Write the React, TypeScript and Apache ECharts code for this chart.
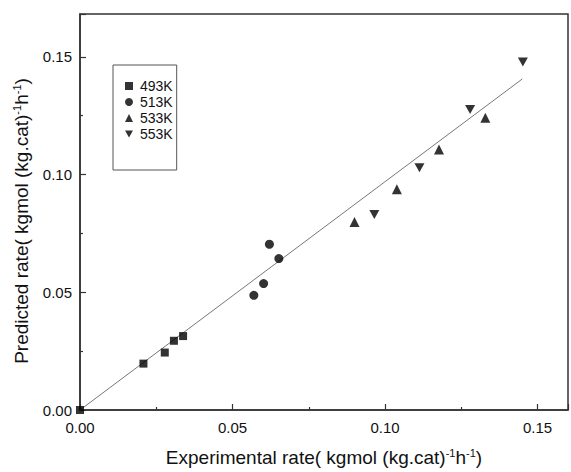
import React, { useEffect, useRef } from "react";
import * as echarts from "echarts";

const legendNames = ["493K", "513K", "533K", "553K"];
const data493: number[][] = [[0, 0], [0.0208, 0.0197], [0.0278, 0.0244], [0.0308, 0.0294], [0.0338, 0.0314]];
const data513: number[][] = [[0.057, 0.0487], [0.0602, 0.0537], [0.0621, 0.0704], [0.0652, 0.0643]];
const data533: number[][] = [[0.09, 0.0799], [0.1039, 0.0938], [0.1177, 0.1106], [0.1329, 0.1241]];
const data553: number[][] = [[0.0965, 0.083], [0.1113, 0.1029], [0.1279, 0.1276], [0.1452, 0.1478]];
const fitLine: number[][] = [[0, 0], [0.145, 0.1406]];
const xTicks = [0, 0.05, 0.1, 0.15];
const yTicks = [0, 0.05, 0.1, 0.15];

const FONT = "'Liberation Sans', Arial, sans-serif";
const DOWN = "path://M0,0L10,0L5,9Z";

export default function App() {
  const ref = useRef<HTMLDivElement>(null);
  useEffect(() => {
    if (!ref.current) return;
    const chart = echarts.init(ref.current, null, { renderer: "svg" });
    const isTick = (v: number, arr: number[]) => arr.some((t) => Math.abs(t - v) < 1e-9);
    const rich = {
      sup: { fontSize: 11, fontFamily: FONT, color: "#111", padding: [0, 0, 10, 0] },
    };
    chart.setOption({
      animation: false,
      backgroundColor: "#fff",
      textStyle: { fontFamily: FONT },
      grid: {
        left: 80,
        top: 14,
        width: 493,
        height: 402,
        show: true,
        borderColor: "#333",
        borderWidth: 1.5,
      },
      legend: {
        data: legendNames.map((n, i) => (i === 3 ? { name: n, icon: DOWN } : { name: n })),
        orient: "vertical",
        left: 113,
        top: 65,
        padding: [14, 4, 29, 12],
        itemGap: 2,
        itemWidth: 8,
        itemHeight: 8,
        borderColor: "#555",
        borderWidth: 1,
        textStyle: { fontFamily: FONT, fontSize: 14, color: "#111", lineHeight: 14, padding: [0, 0, 0, 2] },
      },
      xAxis: {
        type: "value",
        min: 0,
        max: 0.16,
        interval: 0.05,
        splitLine: { show: false },
        axisLine: { onZero: false, lineStyle: { color: "#333", width: 1.5 } },
        axisTick: { inside: true, length: 6, lineStyle: { color: "#333", width: 1.2 } },
        minorTick: { show: true, splitNumber: 2, length: 3, lineStyle: { color: "#333", width: 1.2 } },
        axisLabel: {
          fontFamily: FONT,
          fontSize: 15,
          color: "#111",
          margin: 10,
          formatter: (v: number) => (isTick(v, xTicks) ? v.toFixed(2) : ""),
        },
        name: "{n|Experimental rate( kgmol (kg.cat)}{sup|-1}{n|h}{sup|-1}{n|)}",
        nameLocation: "middle",
        nameGap: 37,
        nameTextStyle: {
          rich: { n: { fontSize: 19, fontFamily: FONT, color: "#111" }, ...rich },
        },
      },
      yAxis: {
        type: "value",
        min: 0,
        max: 0.1682,
        interval: 0.05,
        splitLine: { show: false },
        axisLine: { onZero: false, lineStyle: { color: "#333", width: 1.5 } },
        axisTick: { inside: true, length: 6, lineStyle: { color: "#333", width: 1.2 } },
        minorTick: { show: true, splitNumber: 2, length: 3, lineStyle: { color: "#333", width: 1.2 } },
        axisLabel: {
          fontFamily: FONT,
          fontSize: 15,
          color: "#111",
          margin: 8,
          formatter: (v: number) => (isTick(v, yTicks) ? v.toFixed(2) : ""),
        },
        name: "{n|Predicted rate( kgmol (kg.cat)}{sup|-1}{n|h}{sup|-1}{n|)}",
        nameLocation: "middle",
        nameGap: 48,
        nameRotate: 90,
        nameTextStyle: {
          padding: [0, 18, 0, 0],
          rich: { n: { fontSize: 19, fontFamily: FONT, color: "#111" }, ...rich },
        },
      },
      series: [
        {
          name: "fit",
          type: "line",
          data: fitLine,
          symbol: "none",
          silent: true,
          lineStyle: { color: "#777", width: 1 },
          z: 1,
        },
        { name: legendNames[0], type: "scatter", data: data493, symbol: "rect", symbolSize: 8, itemStyle: { color: "#000" }, clip: true, z: 3 },
        { name: legendNames[1], type: "scatter", data: data513, symbol: "circle", symbolSize: 9, itemStyle: { color: "#000" }, clip: true, z: 3 },
        { name: legendNames[2], type: "scatter", data: data533, symbol: "triangle", symbolSize: 10, itemStyle: { color: "#000" }, clip: true, z: 3 },
        { name: legendNames[3], type: "scatter", data: data553, symbol: DOWN, symbolSize: [10, 9], itemStyle: { color: "#000" }, clip: true, z: 3 },
      ],
    });
    return () => chart.dispose();
  }, []);
  return (
    <div
      ref={ref}
      style={{ position: "fixed", left: 0, top: 0, width: 571, height: 472, background: "#fff" }}
    />
  );
}
